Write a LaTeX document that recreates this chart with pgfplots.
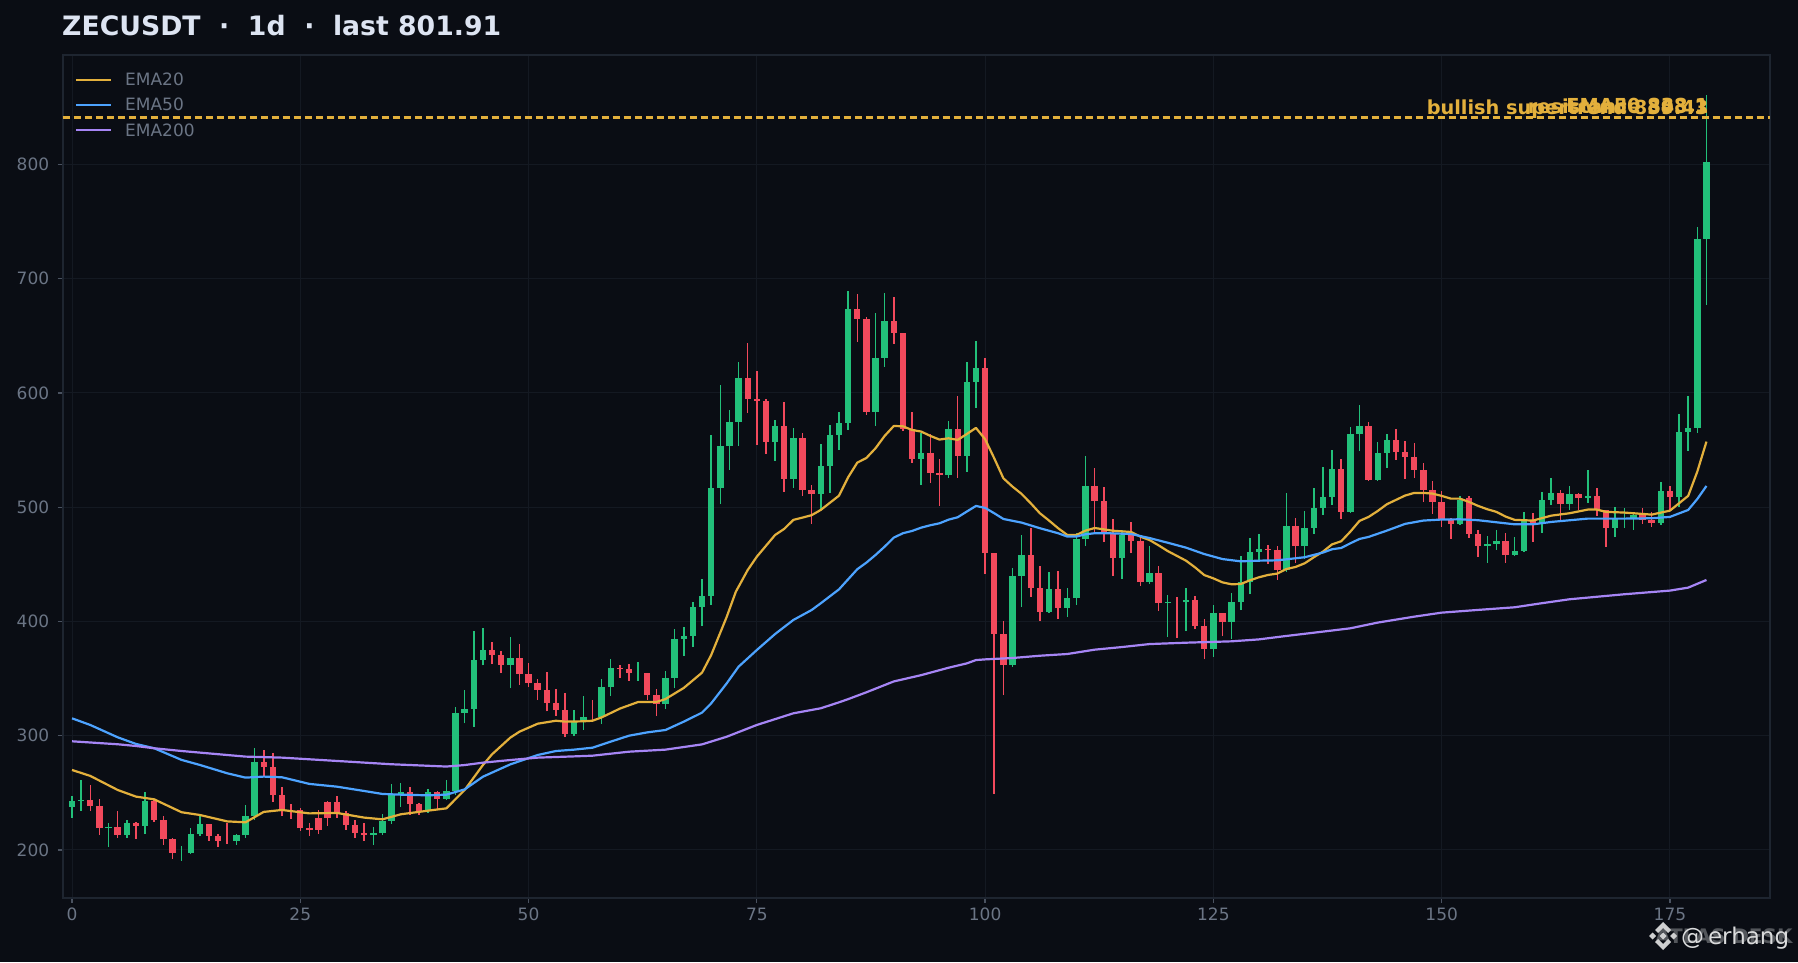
\documentclass[border=0pt]{standalone}
\usepackage{pgfplots}
\usepackage{pgfplotstable}
\usepackage{fontspec}
\pgfplotsset{compat=1.18}
\setmainfont{DejaVu Sans}
\definecolor{bg}{HTML}{0A0D14}
\definecolor{spine}{HTML}{1E2530}
\definecolor{gridc}{HTML}{141922}
\definecolor{tickc}{HTML}{4A5260}
\definecolor{labc}{HTML}{6B7585}
\definecolor{up}{HTML}{22C07A}
\definecolor{dn}{HTML}{F2495C}
\definecolor{gold}{HTML}{E3B03C}
\definecolor{blu}{HTML}{4DA3FF}
\definecolor{pur}{HTML}{A685F5}
\definecolor{ttl}{HTML}{DDE4F2}
\pgfplotstableread{
i o h l c
0 237.6 247.2 228.3 242.9
1 243 261 234 243.5
4 219.5 223.6 202.6 220
6 213 226 210.5 223.6
8 221 251 214 243
12 197.4 203.5 190.4 197.4
13 197.4 219.5 196.5 214
14 214 229.8 212 222.8
18 208 214 204.4 213
19 213 239.4 210.5 229.8
20 229.8 289 226 277
33 213 220 204.4 214.6
34 214.6 231.5 213 225.4
35 225.4 257.8 222.8 248
36 248 258.6 237.6 250.8
39 234 253.4 232.4 250.8
41 244.6 261 243.7 251.6
42 251.6 325 248 320
43 320 340 310.8 323.4
44 323.4 391.6 307.9 366.3
45 366.3 394.3 361.6 375
48 361.9 386.4 341.7 368
55 301.5 322.5 299.7 312.3
56 312.3 334.7 305 316.4
58 316.4 349.6 310.2 342.6
59 342.6 367.1 334.7 359.3
62 354.9 364.5 347.9 354.9
65 327.7 356.6 323.4 350.5
66 350.5 393.4 341.7 384.6
67 384.6 395.1 369.8 387.3
68 387.3 417 377.6 412.7
69 412.7 437.2 396 422.3
70 422.3 563.3 414.4 516.9
71 516.9 607 502.9 553.5
72 553.5 585.1 532.6 574.6
73 574.6 627.2 553.6 613.2
77 557.1 576.4 540.5 571.1
79 524.7 569.4 516.9 560.6
82 511.6 555.4 497.6 536.1
83 536.1 572 512.5 563.3
84 563.3 583.4 550.1 573.8
85 573.8 689.3 567.6 673.6
88 583.4 670 571.1 630.7
89 630.7 687.6 622.8 663
93 542.2 565 519.5 547.5
96 528.5 575.5 525.6 568.5
98 544.9 627.2 530.9 609.7
99 609.7 645.5 586.9 621.9
103 361.8 446.8 360.4 439.8
104 439.8 475.6 412.6 458.1
107 408.2 443.3 407.4 428.4
109 411.7 429.2 403.9 420.5
110 420.5 477.1 414.4 472.1
111 472.1 544.8 466 518.5
115 455.5 480 437.1 475.6
118 434.5 466 432.8 442.4
120 416.1 423 386.4 416.7
122 416.7 429.2 391.6 418.7
125 375.9 414.4 368.9 407.4
127 399.5 424.9 384.6 417
128 417 457.3 410 434.5
129 434.5 473 424 460.8
130 460.8 476.6 453 463.5
133 445.1 512.5 443.3 483.6
135 466.1 496.7 454.7 481.8
136 481.8 516.9 476.6 499.4
137 499.4 535.2 493.2 509
138 509 550.1 502 533.5
140 495.9 570.3 495 564.1
141 564.1 589.5 549.3 571.1
143 523.9 557.1 523 547.5
144 547.5 564.1 534.4 558.9
152 485.4 509.9 484.5 506.4
155 466.1 474.8 451.2 467.8
156 467.8 480.1 462.6 470.4
158 458.2 473.9 457.3 461.7
159 461.7 495.9 460.8 487.9
161 485.4 513.4 477.5 506.4
162 506.4 525.6 502 512.5
164 502.9 518.6 497.6 511.6
166 508.1 532.6 503.7 509.9
169 481.8 500.2 473.9 489.7
170 489.7 499.4 481.8 489.7
171 489.7 495.9 480.1 493.2
174 486.3 522.1 484.5 514.2
176 509 581.6 500.2 565.9
177 565.9 597 549.3 569.4
178 569.4 745 565 735
179 735 860.8 677 801.91
}\upcandles
\pgfplotstableread{
i o h l c
2 243.7 257 234 238.5
3 238.5 244.6 213 219.5
5 220 234.4 210.8 213
7 223.6 224.5 209.6 221
9 243 244 224.5 226
10 226 229.8 204.4 209.6
11 209.6 210.5 192 197.4
15 222.8 222.8 208 212
16 212 214 202.6 208
17 208 224 205.2 208
21 277 287.5 264 272.6
22 272.6 285 242 248
23 248 255.4 229.8 235
24 235 240 227 235
25 235 236.8 216.6 219
26 219.3 223.6 212 217.5
27 217.5 235 214 228
28 228 243 221 242
29 242 247 228 232.4
30 232.4 234 217.5 222
31 222 226 210.5 215
32 215 223.6 208 213
37 250.8 255 230.6 240
38 240 241 230.6 234
40 250.8 251.6 235 244.6
46 375 382 362.8 370.6
47 370.6 374.1 354.9 361.9
49 368 380.3 344.4 354
50 354 363.6 342.6 346.1
51 346.1 349.6 331.2 340
52 340 355.8 321.3 328.6
53 328.6 340.9 317.2 322.5
54 322.5 337.4 298.8 301.5
57 316.4 331.2 312.9 316.4
60 359.3 361.9 350.5 358.4
61 358.4 362.8 347.9 354.9
63 354.9 354.9 331.2 335.6
64 335.6 340.9 317.2 327.7
74 613.2 643.8 582.5 594.8
75 594.8 619.3 554.5 593
76 593 594.8 546.6 557.1
78 571.1 592.1 513.4 524.7
80 560.6 565 509.9 515.1
81 515.1 519.5 485.3 511.6
86 673.6 686.7 644.7 664.8
87 664.8 666.6 580.8 583.4
90 663 684 642.9 652.5
91 652.5 652.5 566.5 568.5
92 568.5 583.4 538.8 542.2
94 547.5 564.1 521.2 530
95 530 542.2 501.1 528.5
97 568.5 597.4 525.6 544.9
100 621.8 630.6 441.5 459.9
101 459.9 459.9 248.9 389
102 389 400.4 335.6 361.8
105 458.1 481.8 421.4 429.2
106 429.2 448.5 400.4 408.2
108 428.4 444.1 402.1 411.7
112 518.5 534.3 478.3 505.4
113 505.4 517.7 469.5 477.4
114 477.4 489.6 439.8 455.5
116 475.6 487 459.9 470.4
117 470.4 474 431 434.5
119 442.4 448.5 409.1 416.1
121 416.7 421.4 385.5 416.7
123 418.7 422.2 393.3 396
124 396 402.1 367.1 375.9
126 407.4 407.4 387.2 399.5
131 463.5 467 450.3 462.6
132 462.6 466.1 436.3 445.1
134 483.6 490.6 451.2 466.1
139 533.5 542.2 489.7 495.9
142 571.1 574.6 523 523.9
145 558.9 568.5 541.4 548.4
146 548.4 558 524.7 544
147 544 556.3 525.6 532.6
148 532.6 538.8 504.6 515.1
149 515.1 523 494.1 504.6
150 504.6 514.2 482.7 488.9
151 488.9 490.6 472.2 485.4
153 508.1 509.9 473.1 476.6
154 476.6 480.1 456.5 466.1
157 470.4 477.5 451.2 458.2
160 487.9 495 469.6 485.4
163 512.5 515.1 488 502.9
165 511.6 512.8 497.6 508.1
167 509.9 516.9 492.4 497.6
168 497.6 497.6 465.2 481.8
172 493.2 499.4 485.4 488.9
173 488.9 495.9 482.7 486.3
175 514.2 518.6 497 509
}\downcandles
\pgfplotstableread{
x y
0 270
2 264.8
5 252.5
7 246.7
9 244.3
12 233
14 230.6
17 225
19 224.2
21 233.3
23 235
26 232
29 232.4
32 228.3
34 226.8
36 231.2
39 234.4
41 236.4
43 252.5
45 274.3
46 283.7
48 298.3
49 303.5
51 310.5
53 313.1
54 312.3
56 312.6
57 313.1
58 316
60 323.7
62 329.5
64 329.5
65 332.1
67 341.8
69 355.2
70 370.6
71.7 404
72.7 426
74 445
75 456.7
77 475.7
78 481
79 488.9
80 490.9
81 493
82 497.6
84 510.1
85 526.2
86 539
87 543.1
88 551.6
89 562.4
90 571.1
91 570.8
92 567.6
93 566.2
94 562.4
95 559.2
96 560.3
97 558.9
98 564.1
99 569.4
100 559.5
101 542.8
102 525.3
103 518
104 511.6
105 503.4
106 494.7
107 488.3
108 481.6
109 475.7
110 475.7
111 479.5
112 481.8
113 480.6
114 479.4
116 478.3
117 474.2
118 471.3
119 466.6
120 461.6
122 453.2
123 447.3
124 440.6
125 437.7
126 434.2
127 432.5
128 432.8
129 436
130 438.7
131 440.7
132 441.9
133 445.9
134 447.7
135 450.9
136 456.2
137 461.1
138 467.5
139 470.2
140 478.6
141 488
142 491.5
143 496.7
144 502.6
145 506.4
146 510.2
147 512.5
148 512.5
149 511.9
150 509.9
151 507.5
152 507.5
153 504.6
154 501.1
155 498.2
156 495.9
157 491.8
158 488.9
160 488.3
162 492.6
164 494.7
166 497.9
167 497.9
168 495.9
170 495.3
171 494.7
173 493.5
175 497
177 509.9
178 531.2
179 557.4
}\emaA
\pgfplotstableread{
x y
0 315.2
2 309.4
5 298.6
7 292.8
9 289
12 278.8
14 274.4
17 267.1
19 263.3
21 264.2
23 263.6
26 257.8
29 255.4
32 251.6
34 249
36 248.4
39 247.8
41 248.4
43 253
45 264.1
48 274.9
51 283.1
53 286.6
55 287.8
57 289.5
59 294.8
61 300
63 302.9
65 305
67 312.3
69 320.2
70 328.3
71.7 345.8
73 360.4
75 375
77 389
79 401.3
81 410
82 415.9
84 428.1
86 445.7
87 451.5
88 458.2
89 465.5
90 473.4
91 477.2
92 479.2
93 482.1
94 484.2
95 485.9
96 489.1
97 491.2
98 496.2
99 501.1
100 499.4
101 494.7
102 489.7
104 486.5
106 481.6
108 477.2
109 474.3
110 474.3
111 476.3
112 477.2
114 477.1
116 476.5
118 473
120 468.9
122 464.6
124 459
126 454.6
128 452.6
130 453.2
132 453.5
135 456.2
137 460.3
138 463.2
139 464.3
140 468.4
141 472.2
142 474
144 479.5
146 485.4
148 488.3
150 489.2
152 489.4
154 488.6
156 486.8
158 485
160 485
162 487.1
166 490
168 490
170 490
173 490.3
175 491.5
177 497.6
178 507.2
179 518.6
}\emaB
\pgfplotstableread{
x y
0 295.1
5 292.5
7 291
9 289
12 286.6
17 283.1
19 281.7
23 280.8
29 277.9
35 275
41 273
43 274.3
45 276.4
48 278.7
51 280.8
55 281.9
57 282.5
61 286
65 287.8
69 292.4
71.7 299.1
75 309.4
79 319.6
82 324
84 329.2
85 332
87 338
90 347.5
93 353
96 359.5
98 363.3
99 366.2
100 366.8
103 368
106 370
109 371.5
112 375.3
115 377.6
118 380.2
122 381.4
127 382.6
130 384.3
133 387.3
137 391.1
140 394
143 399
147 404.2
150 407.7
154 410.1
158 412.4
161 416
164 419.4
170 423.8
175 427
177 429.6
179 436.3
}\emaC
\begin{document}
\begin{tikzpicture}[x=1pt,y=1pt]
\fill[bg] (0,0) rectangle (1798,962);
\pgfresetboundingbox
\useasboundingbox (0,0) rectangle (1798,962);
\begin{axis}[
  at={(62.7pt,64.3pt)}, anchor=south west,
  scale only axis, width=1707.3pt, height=842.7pt,
  xmin=-1.02, xmax=185.96, ymin=158.2, ymax=895.8,
  xtick={0,25,50,75,100,125,150,175},
  ytick={200,300,400,500,600,700,800},
  xtick pos=lower, ytick pos=left,
  xticklabel style={font=\fontsize{17}{19}\selectfont, text=labc, yshift=-2pt},
  yticklabel style={font=\fontsize{17}{19}\selectfont, text=labc, xshift=-5pt},
  /pgf/number format/assume math mode=true,
  /pgf/number format/set thousands separator={},
  tick align=outside, major tick length=5pt,
  tick style={color=tickc, line width=1.3pt},
  axis line style={color=spine, line width=1.8pt},
  grid=major, grid style={color=gridc, line width=1pt},
  legend cell align=left,
  legend style={at={(0.0072,0.9785)}, anchor=north west, draw=none, fill=none,
    font=\fontsize{17}{19}\selectfont, text=labc, row sep=12.6pt, inner sep=0pt, outer sep=0pt,
    nodes={inner sep=0pt, text depth=0pt, anchor=base west, outer xsep=0pt},
    /tikz/every odd column/.append style={column sep=13pt}},
  legend image code/.code={\draw[#1] (0pt,6pt) -- (35pt,6pt);},
]
% wicks
\addplot[forget plot, draw=none, no markers, error bars/.cd, y dir=plus, y explicit, error mark=none, error bar style={draw=up, solid, line width=1.5pt}]
  table[x=i, y=l, y error expr=\thisrow{h}-\thisrow{l}] {\upcandles};
\addplot[forget plot, draw=none, no markers, error bars/.cd, y dir=plus, y explicit, error mark=none, error bar style={draw=dn, solid, line width=1.5pt}]
  table[x=i, y=l, y error expr=\thisrow{h}-\thisrow{l}] {\downcandles};
% bodies
\addplot[forget plot, draw=none, no markers, error bars/.cd, y dir=plus, y explicit, error mark=none, error bar style={draw=up, solid, line width=6.4pt}]
  table[x=i, y=o, y error expr=\thisrow{c}-\thisrow{o}] {\upcandles};
\addplot[forget plot, draw=none, no markers, error bars/.cd, y dir=plus, y explicit, error mark=none, error bar style={draw=dn, solid, line width=6.4pt}]
  table[x=i, y=c, y error expr=\thisrow{o}-\thisrow{c}] {\downcandles};
% EMAs
\addplot[color=gold, line width=2.2pt, line join=round, no markers] table[x=x,y=y] {\emaA};
\addlegendentry{EMA20}
\addplot[color=blu, line width=2.2pt, line join=round, no markers] table[x=x,y=y] {\emaB};
\addlegendentry{EMA50}
\addplot[color=pur, line width=2.2pt, line join=round, no markers] table[x=x,y=y] {\emaC};
\addlegendentry{EMA200}
% level
\addplot[forget plot, color=gold, line width=3.7pt, dash pattern=on 7.7pt off 3.3pt, no markers] coordinates {(-1.02,841) (185.96,841)};
\node[anchor=base east, text=gold, font=\fontsize{19.3}{21}\selectfont\bfseries] at (axis cs:179.6,844) {bullish supertrend 839.43};
\node[anchor=base east, text=gold, font=\fontsize{19.3}{21}\selectfont\bfseries] at (axis cs:179.6,844.6) {resistance 843.1};
\node[anchor=base east, text=gold, font=\fontsize{19.3}{21}\selectfont\bfseries] at (axis cs:179.6,845.2) {EMA50 838.1};
\end{axis}
% title
\node[anchor=base west, inner sep=0pt, text=ttl, font=\fontsize{26.7}{30}\selectfont\bfseries] at (62,926) {ZECUSDT\ \ ·\ \ 1d\ \ ·\ \ last 801.91};
% watermark
\node[anchor=base west, inner sep=0pt, text=white!30!bg, font=\fontsize{20}{24}\selectfont\bfseries] at (1655,19) {ATLAS DESK};
\begin{scope}[shift={(1663,26)}, fill=white!80!bg]
  \fill (0,14)--(8,6)--(5,3)--(0,8)--(-5,3)--(-8,6)--cycle;
  \fill (0,-14)--(8,-6)--(5,-3)--(0,-8)--(-5,-3)--(-8,-6)--cycle;
  \fill (-14,0)--(-10.5,3.5)--(-7,0)--(-10.5,-3.5)--cycle;
  \fill (14,0)--(10.5,3.5)--(7,0)--(10.5,-3.5)--cycle;
  \fill (0,3.5)--(3.5,0)--(0,-3.5)--(-3.5,0)--cycle;
\end{scope}
\node[anchor=base west, inner sep=0pt, text=white!85!bg, font=\fontsize{23}{26}\selectfont] at (1681,18) {@\,erhang};
\end{tikzpicture}
\end{document}
